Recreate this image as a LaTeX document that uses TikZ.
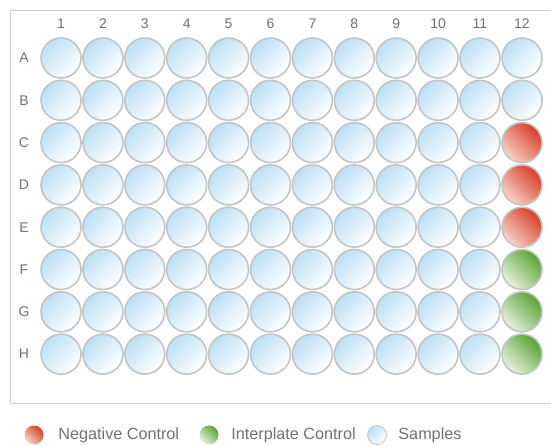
\documentclass[tikz,border=0pt]{standalone}
\usepackage{fontspec}
\setmainfont{Liberation Sans}
\usetikzlibrary{positioning}
\definecolor{sampleblue}{HTML}{BCDFF5}
\definecolor{negred}{HTML}{D63E27}
\definecolor{negpale}{HTML}{F7D3C8}
\definecolor{intgreen}{HTML}{58A233}
\definecolor{intpale}{HTML}{EAF1E0}
\definecolor{wellrim}{HTML}{C2C4C6}
\definecolor{labelgray}{HTML}{707070}
\definecolor{framegray}{HTML}{CFCFCF}

\begin{document}
\begin{tikzpicture}[x=1pt,y=-1pt,
  well/.style={circle,draw=wellrim,line width=1.6pt,minimum size=40pt,inner sep=0pt},
  sample/.style={well,top color=sampleblue,bottom color=white,shading angle=45},
  negctl/.style={well,top color=negred,bottom color=negpale,shading angle=-45},
  interctl/.style={well,top color=intgreen,bottom color=intpale,shading angle=-45},
  keydot/.style={minimum size=19pt,line width=0.8pt},
  lbl/.style={text=labelgray,font=\fontsize{14}{14}\selectfont},
  legtext/.style={text=labelgray,font=\fontsize{16.2}{17}\selectfont,anchor=west}]
  \useasboundingbox (0,0) rectangle (551,445);
  \draw[framegray,line width=0.8pt] (10,10) rectangle (565,403);
  % plate rows
  \foreach \r/\last [count=\i] in {A/sample,B/sample,C/negctl,D/negctl,E/negctl,F/interctl,G/interctl,H/interctl}{
    \node[lbl] (row-\r) at (24,{58+(\i-1)*42.3}) {\r};
    \foreach \c in {1,...,11}
      \node[sample] (w-\r-\c) at ({61+(\c-1)*41.9},{58+(\i-1)*42.3}) {};
    \node[\last] (w-\r-12) at (522,{58+(\i-1)*42.3}) {};
  }
  \foreach \c in {1,...,12}
    \node[lbl] (col-\c) at ({61+(\c-1)*41.9},24) {\c};
  % legend
  \node[negctl,keydot,draw=none] (key-neg) at (34,435) {};
  \node[legtext,right=11pt of key-neg] (txt-neg) {Negative Control};
  \node[interctl,keydot,draw=none] (key-int) at (209,435) {};
  \node[legtext,right=9pt of key-int] (txt-int) {Interplate Control};
  \node[sample,keydot] (key-smp) at (377,435) {};
  \node[legtext,right=8pt of key-smp] (txt-smp) {Samples};
\end{tikzpicture}
\end{document}
